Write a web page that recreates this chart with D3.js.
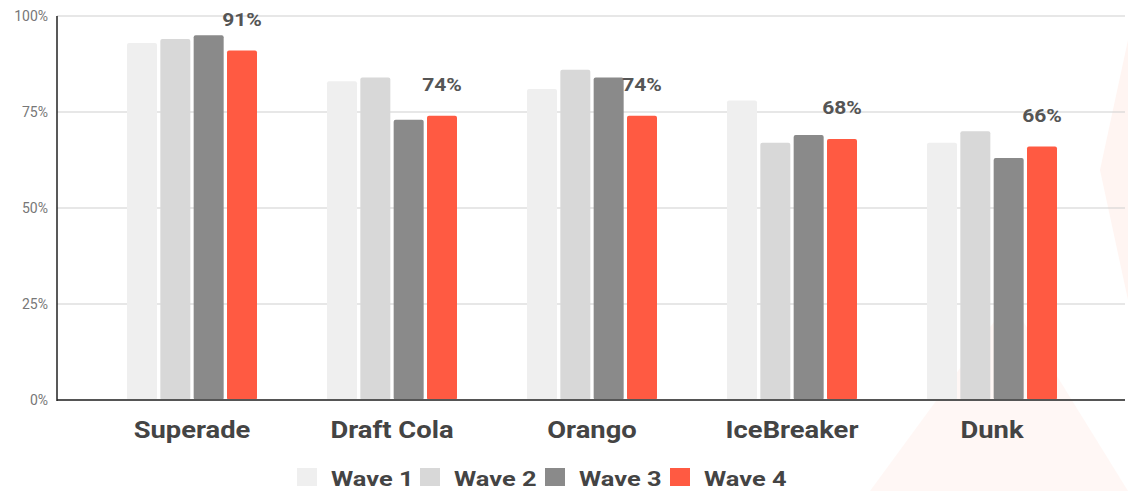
<!DOCTYPE html>
<html>
<head>
<meta charset="utf-8">
<script src="https://cdn.jsdelivr.net/npm/d3@7"></script>
<style>
  body { margin: 0; background: #fff; }
  #chart { width: 1128px; height: 491px; }
  text { font-family: Roboto, "Noto Sans", sans-serif; }
</style>
</head>
<body>
<div id="chart"></div>
<script>

var brands = ["Superade", "Draft Cola", "Orango", "IceBreaker", "Dunk"];
var waves = ["Wave 1", "Wave 2", "Wave 3", "Wave 4"];
var wave1 = [93, 83, 81, 78, 67];
var wave2 = [94, 84, 86, 67, 70];
var wave3 = [95, 73, 84, 69, 63];
var wave4 = [91, 74, 74, 68, 66];
var yTicks = [0, 25, 50, 75, 100];
var colors = ["#efefef", "#d8d8d8", "#8a8a8a", "#ff5a42"];

var series = [wave1, wave2, wave3, wave4];

var width = 1128, height = 491;

var svg = d3.select("#chart")
    .append("svg")
    .attr("width", width)
    .attr("height", height);

// faint watermark in background
var wm = svg.append("g").attr("fill", "#fff5f2");
wm.append("path").attr("d", "M1128,40 L1128,300 L1100,170 Z");
wm.append("path").attr("d", "M870,491 L1010,300 L1128,491 Z").attr("opacity", 0.8);

var y = d3.scaleLinear()
    .domain([0, 100])
    .range([400, 16]);

var x0 = d3.scaleBand()
    .domain(brands)
    .range([92, 1092])
    .paddingInner(0.35)
    .paddingOuter(0.175);

var x1 = d3.scaleBand()
    .domain(waves)
    .range([0, x0.bandwidth()])
    .paddingInner(0.1);

// gridlines
svg.append("g")
    .selectAll("line")
    .data(yTicks.filter(function(d) { return d > 0; }))
    .enter()
    .append("line")
        .attr("x1", 57)
        .attr("x2", 1125)
        .attr("y1", function(d) { return y(d); })
        .attr("y2", function(d) { return y(d); })
        .attr("stroke", "#cfcfcf")
        .attr("stroke-width", 1);

// y tick labels
svg.append("g")
    .selectAll("text")
    .data(yTicks)
    .enter()
    .append("text")
        .attr("x", 48)
        .attr("y", function(d) { return y(d); })
        .attr("dy", "0.35em")
        .attr("text-anchor", "end")
        .attr("font-size", 14)
        .attr("fill", "#777")
        .text(function(d) { return d + "%"; });

// bars
var groups = svg.append("g")
    .selectAll("g")
    .data(brands)
    .enter()
    .append("g")
        .attr("transform", function(d) { return "translate(" + x0(d) + ",0)"; });

groups.selectAll("rect")
    .data(function(d, i) {
        return waves.map(function(w, j) { return { wave: w, idx: j, value: series[j][i] }; });
    })
    .enter()
    .append("rect")
        .attr("x", function(d) { return x1(d.wave); })
        .attr("y", function(d) { return y(d.value); })
        .attr("width", x1.bandwidth())
        .attr("height", function(d) { return y(0) - y(d.value); })
        .attr("rx", 2)
        .attr("fill", function(d) { return colors[d.idx]; });

// value labels on wave 4 (text in the source is a bit stretched sideways)
groups.append("text")
    .attr("transform", function(d, i) {
        return "translate(" + (x1("Wave 4") + x1.bandwidth() / 2) + "," + (y(wave4[i]) - 25) + ") scale(1.17,1)";
    })
    .attr("text-anchor", "middle")
    .attr("font-size", 18)
    .attr("font-weight", "bold")
    .attr("fill", "#555")
    .text(function(d, i) { return wave4[i] + "%"; });

// axes lines
svg.append("line")
    .attr("x1", 57).attr("x2", 1125)
    .attr("y1", y(0)).attr("y2", y(0))
    .attr("stroke", "#555")
    .attr("stroke-width", 2);

svg.append("line")
    .attr("x1", 57).attr("x2", 57)
    .attr("y1", y(100)).attr("y2", y(0) + 1)
    .attr("stroke", "#222")
    .attr("stroke-width", 1.5);

// category labels
svg.append("g")
    .selectAll("text")
    .data(brands)
    .enter()
    .append("text")
        .attr("transform", function(d) {
            return "translate(" + (x0(d) + x0.bandwidth() / 2) + ",438) scale(1.19,1)";
        })
        .attr("text-anchor", "middle")
        .attr("font-size", 23)
        .attr("font-weight", "bold")
        .attr("fill", "#444")
        .text(function(d) { return d; });

// legend
var legendX = [297, 420, 545, 670];
var legend = svg.append("g")
    .selectAll("g")
    .data(waves)
    .enter()
    .append("g")
        .attr("transform", function(d, i) { return "translate(" + legendX[i] + ",468)"; });

legend.append("rect")
    .attr("width", 20)
    .attr("height", 18)
    .attr("fill", function(d, i) { return colors[i]; });

legend.append("text")
    .attr("transform", "translate(34,18) scale(1.27,1)")
    .attr("font-size", 20)
    .attr("font-weight", "bold")
    .attr("fill", "#444")
    .text(function(d) { return d; });

</script>
</body>
</html>
